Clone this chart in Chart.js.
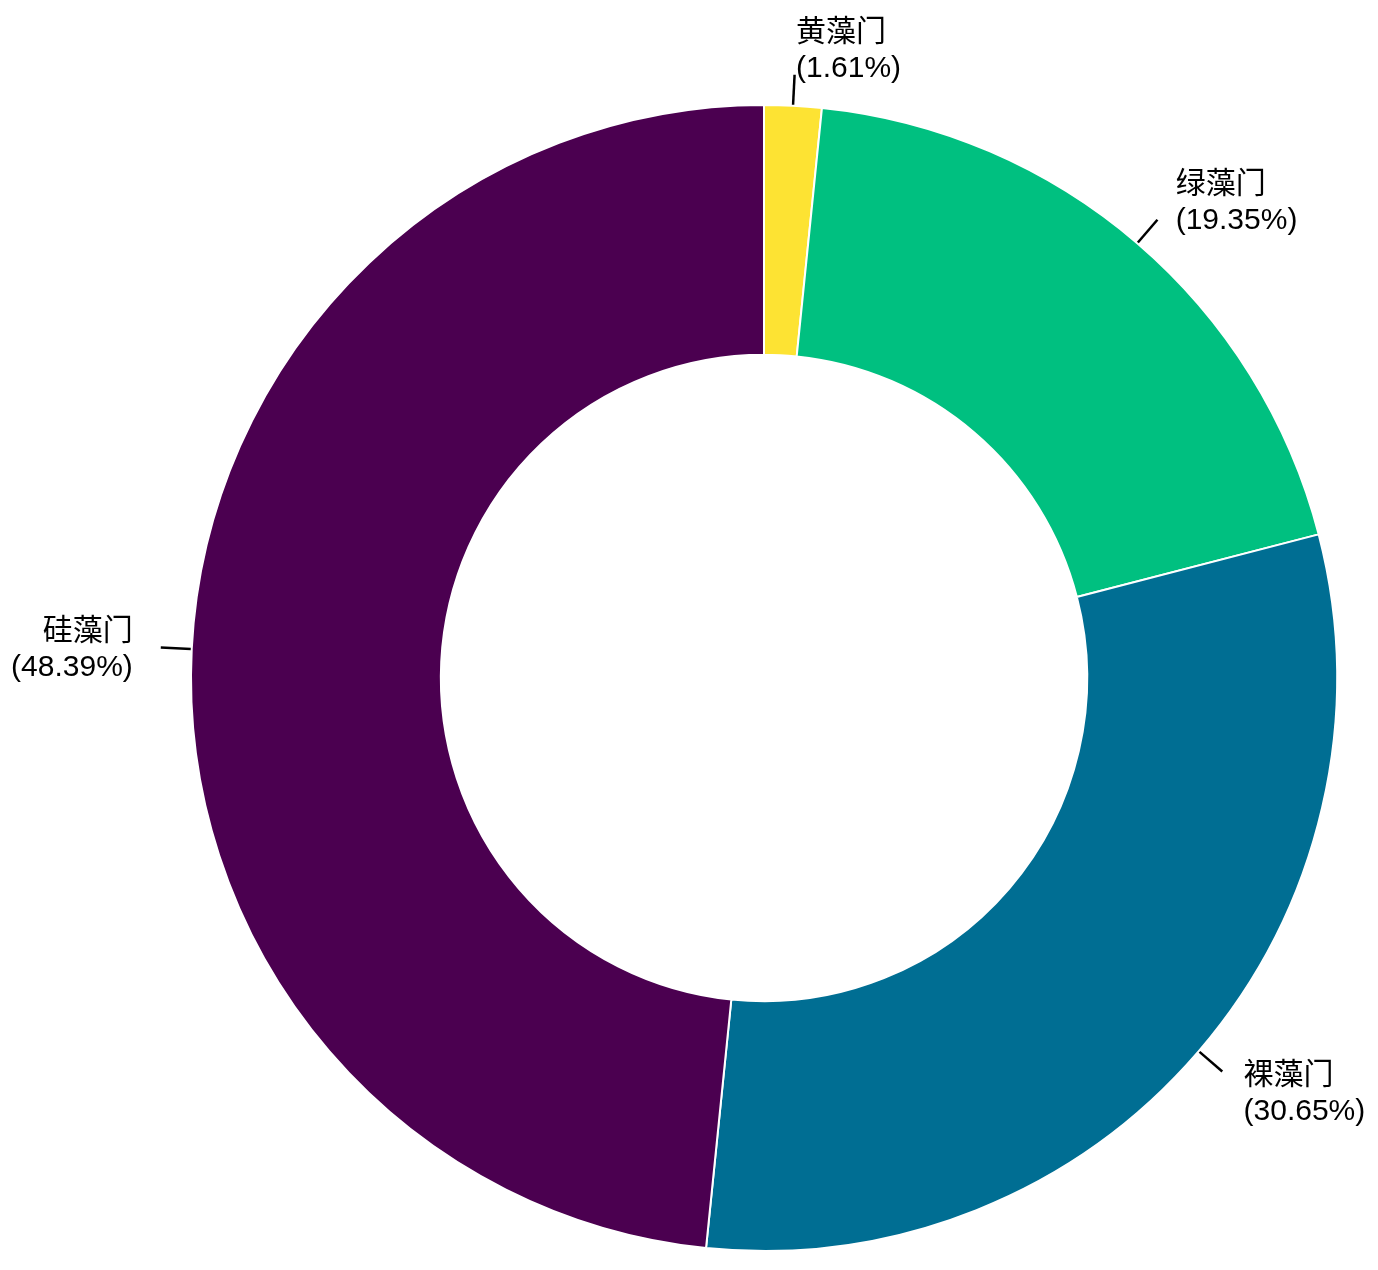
<!DOCTYPE html>
<html>
<head>
<meta charset="utf-8">
<script src="https://cdn.jsdelivr.net/npm/chart.js@4/dist/chart.umd.min.js"></script>
<style>
  html, body { margin: 0; padding: 0; background: #ffffff; }
  #wrap { width: 1378px; height: 1270px; position: relative; }
</style>
</head>
<body>
<div id="wrap"><canvas id="c" width="1378" height="1270"></canvas></div>
<script>
const categories = ['黄藻门', '绿藻门', '裸藻门', '硅藻门'];
const counts = [1, 12, 19, 30];
const colors = ['#fde333', '#00c080', '#006e93', '#4b0050'];

const total = counts.reduce((a, b) => a + b, 0);
const percentLabels = counts.map(v => '(' + (v / total * 100).toFixed(2) + '%)');

const FONT = '30px "Liberation Sans", "Noto Sans CJK SC", sans-serif';

const outsideLabels = {
  id: 'outsideLabels',
  afterDatasetsDraw(chart) {
    const ctx = chart.ctx;
    const meta = chart.getDatasetMeta(0);
    ctx.save();
    meta.data.forEach((arc, i) => {
      const p = arc.getProps(['x', 'y', 'startAngle', 'endAngle', 'outerRadius'], true);
      const mid = (p.startAngle + p.endAngle) / 2;
      const cos = Math.cos(mid), sin = Math.sin(mid);
      const r0 = p.outerRadius + 1;
      const r1 = p.outerRadius + 31;
      const rt = p.outerRadius + 59;
      ctx.strokeStyle = '#000000';
      ctx.lineWidth = 2.5;
      ctx.beginPath();
      ctx.moveTo(p.x + cos * r0, p.y + sin * r0);
      ctx.lineTo(p.x + cos * r1, p.y + sin * r1);
      ctx.stroke();
      const tx = p.x + cos * rt;
      const ty = p.y + sin * rt + 4;
      ctx.font = FONT;
      ctx.fillStyle = '#000000';
      ctx.textAlign = cos >= 0 ? 'left' : 'right';
      ctx.textBaseline = 'middle';
      const lh = 36;
      ctx.fillText(categories[i], tx, ty - lh / 2);
      ctx.fillText(percentLabels[i], tx, ty + lh / 2);
    });
    ctx.restore();
  }
};

new Chart(document.getElementById('c'), {
  type: 'doughnut',
  data: {
    labels: categories,
    datasets: [{
      data: counts,
      backgroundColor: colors,
      borderColor: '#ffffff',
      borderWidth: 2,
      hoverOffset: 0
    }]
  },
  options: {
    responsive: false,
    animation: false,
    cutout: '56.4%',
    layout: { padding: { left: 190, right: 40, top: 104, bottom: 18 } },
    plugins: {
      legend: { display: false },
      tooltip: { enabled: false }
    }
  },
  plugins: [outsideLabels]
});
</script>
</body>
</html>
